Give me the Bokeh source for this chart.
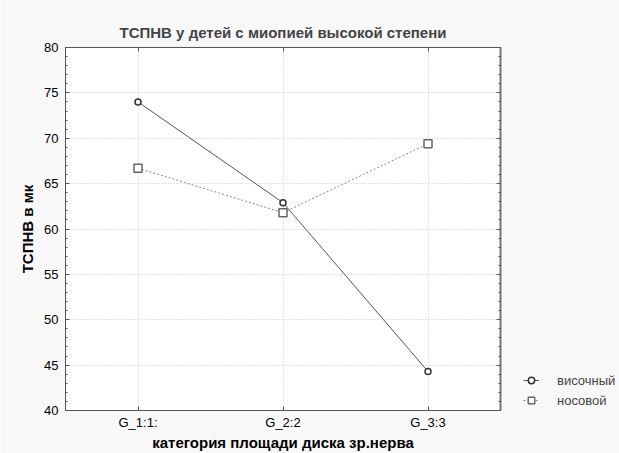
from bokeh.plotting import figure
from bokeh.models import FixedTicker, Range1d, LinearAxis, Legend, LegendItem
from bokeh.layouts import row
from bokeh.embed import file_html
from bokeh.resources import INLINE

categories = ["G_1:1:", "G_2:2", "G_3:3"]
x_pos = [1, 2, 3]
temporal = [74.0, 62.9, 44.3]   # височный
nasal = [66.7, 61.8, 69.4]      # носовой
y_ticks = [40, 45, 50, 55, 60, 65, 70, 75, 80]
series_names = ["височный", "носовой"]

FONT = "Liberation Sans"
BG = "#f8f8f8"

p = figure(width=505, height=453, output_backend="svg", toolbar_location=None,
           x_range=Range1d(0.5, 3.5), y_range=Range1d(40, 80),
           min_border_left=65, min_border_right=5, min_border_top=47, min_border_bottom=43)
p.border_fill_color = BG
p.background_fill_color = "white"
p.outline_line_color = "#555555"

p.title.text = "ТСПНВ у детей с миопией высокой степени"
p.title.text_font = FONT
p.title.text_font_size = "15px"
p.title.text_font_style = "bold"
p.title.align = "center"
p.title.offset = 0
p.title.standoff = 13

xa = p.xaxis[0]
xa.ticker = FixedTicker(ticks=x_pos)
xa.major_label_overrides = {x: c for x, c in zip(x_pos, categories)}
xa.axis_label = "категория площади диска зр.нерва"
ya = p.yaxis[0]
ya.ticker = FixedTicker(ticks=y_ticks, minor_ticks=list(range(40, 81)))
ya.axis_label = "ТСПНВ в мк"

for ax in (xa, ya):
    ax.major_tick_in = 4
    ax.major_tick_out = 0
    ax.minor_tick_in = 2
    ax.minor_tick_out = 0
    ax.axis_line_color = "#555555"
    ax.major_tick_line_color = "#555555"
    ax.minor_tick_line_color = "#555555"
    ax.major_label_text_font = FONT
    ax.major_label_text_font_size = "13px"
    ax.major_label_text_color = "black"
    ax.axis_label_text_font = FONT
    ax.axis_label_text_font_size = "15px"
    ax.axis_label_text_font_style = "bold"
    ax.axis_label_text_color = "black"
xa.major_label_standoff = 4
xa.axis_label_standoff = 1
ya.major_label_standoff = 7
ya.axis_label_standoff = 5

top = LinearAxis(ticker=FixedTicker(ticks=x_pos), major_label_text_font_size="0px",
                 major_label_standoff=0, major_tick_in=4, major_tick_out=0,
                 axis_line_color="#555555", major_tick_line_color="#555555")
right = LinearAxis(ticker=FixedTicker(ticks=y_ticks, minor_ticks=list(range(40, 81))),
                   major_label_text_font_size="0px", major_label_standoff=0,
                   major_tick_in=4, major_tick_out=0,
                   minor_tick_in=2, minor_tick_out=0, axis_line_color="#777777",
                   axis_line_width=2, major_tick_line_color="#555555",
                   minor_tick_line_color="#555555")
p.add_layout(top, "above")
p.add_layout(right, "right")

p.xgrid.ticker = FixedTicker(ticks=x_pos)
p.ygrid.ticker = FixedTicker(ticks=y_ticks)
for g in (p.xgrid[0], p.ygrid[0]):
    g.grid_line_color = "#c8c8c8"
    g.grid_line_dash = "1 2"

STYLE1 = dict(line=dict(line_color="#555555", line_width=1),
              marker=dict(marker="circle", size=6, fill_color="white",
                          line_color="#333333", line_width=1.5))
STYLE2 = dict(line=dict(line_color="#888888", line_width=1, line_dash="2 2"),
              marker=dict(marker="square", size=8, fill_color="white",
                          line_color="#666666", line_width=1.5))

p.line(x_pos, temporal, **STYLE1["line"])
p.scatter(x_pos, temporal, **STYLE1["marker"])
p.line(x_pos, nasal, **STYLE2["line"])
p.scatter(x_pos, nasal, **STYLE2["marker"])

# legend panel to the right of the plot
lg = figure(width=114, height=453, output_backend="svg", toolbar_location=None,
            x_range=Range1d(0, 1), y_range=Range1d(0, 1),
            x_axis_location=None, y_axis_location=None,
            min_border_left=0, min_border_right=0,
            min_border_top=0, min_border_bottom=0)
lg.grid.visible = False
lg.outline_line_color = None
lg.border_fill_color = BG
lg.background_fill_color = BG

nan = float("nan")
items = []
for name, st in zip(series_names, (STYLE1, STYLE2)):
    l = lg.line([nan], [nan], **st["line"])
    m = lg.scatter([nan], [nan], **st["marker"])
    items.append(LegendItem(label=name, renderers=[l, m]))

legend = Legend(items=items, location=(18, 0), orientation="vertical")
legend.background_fill_alpha = 0
legend.border_line_alpha = 0
legend.padding = 0
legend.margin = 0
legend.spacing = 0
legend.glyph_width = 16
legend.label_standoff = 18
legend.label_text_font = FONT
legend.label_text_font_size = "13px"
legend.label_height = 20
legend.glyph_height = 20
lg.add_layout(legend, "center")

layout = row(p, lg)
open("out.html", "w").write(file_html(layout, INLINE))
